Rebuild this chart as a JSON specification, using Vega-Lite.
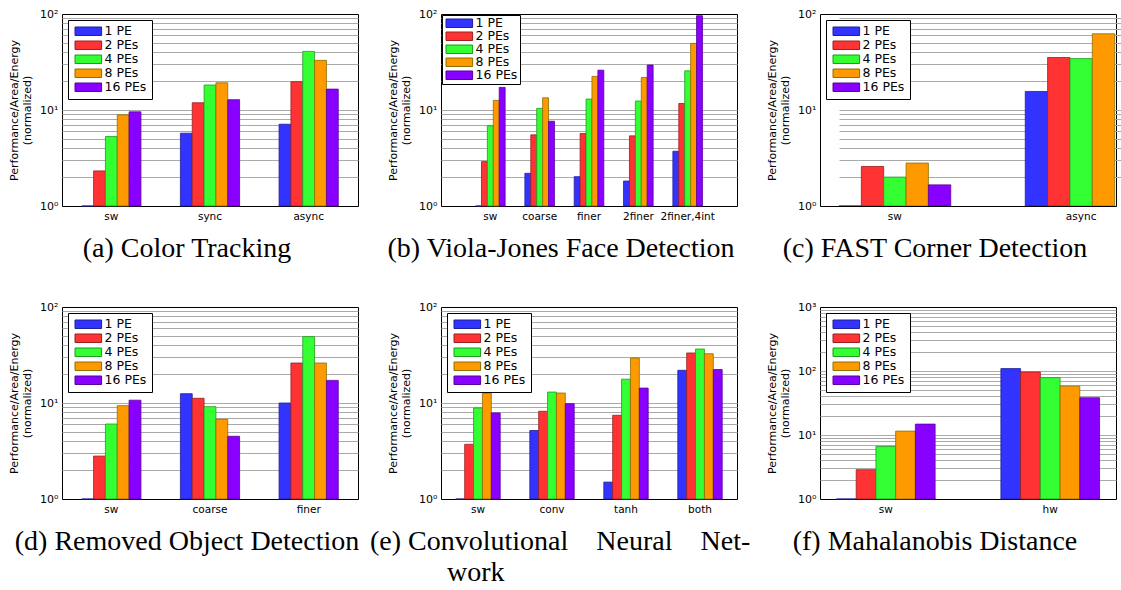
{
  "$schema": "https://vega.github.io/schema/vega-lite/v6.json",
  "background": "white",
  "autosize": {"type": "pad"},
  "padding": {"left": 8, "top": 7, "right": 5, "bottom": 5},
  "bounds": "flush",
  "columns": 3,
  "spacing": {"row": 101, "column": 83},
  "resolve": {"scale": {"x": "independent", "y": "independent", "xOffset": "independent", "color": "independent", "stroke": "independent"}},
  "config": {
    "view": {"stroke": "black", "strokeWidth": 1},
    "axis": {"domain": false, "ticks": false, "labelColor": "black", "labelFont": "DejaVu Sans"},
    "axisX": {"grid": false, "labelAngle": 0, "labelFontSize": 10.5, "labelPadding": 5},
    "axisY": {"grid": true, "gridColor": "#aaaaaa", "gridWidth": 1, "labelFontSize": 11, "labelPadding": 4, "titleFont": "DejaVu Sans", "titleFontSize": 11, "titleFontWeight": "normal", "titleColor": "black", "titleLineHeight": 13, "titlePadding": 7},
    "legend": {"orient": "top-left", "offset": 6, "fillColor": "white", "strokeColor": "black", "strokeWidth": 1, "padding": 5, "rowPadding": 1, "labelFont": "DejaVu Sans", "labelFontSize": 12.5, "labelColor": "black", "labelOffset": 19, "symbolSize": 72, "symbolStrokeWidth": 1, "cornerRadius": 0},
    "title": {"orient": "bottom", "font": "Liberation Serif", "fontSize": 28, "fontWeight": "normal", "color": "black", "anchor": "middle", "frame": "group", "offset": 13}
  },
  "concat": [
    {
      "width": 296, "height": 192,
      "title": {"text": "(a) Color Tracking", "dx": -23},
      "data": {"values": [
        {"cat": "sw", "series": "1 PE", "v": 1}, {"cat": "sw", "series": "2 PEs", "v": 2.32}, {"cat": "sw", "series": "4 PEs", "v": 5.29}, {"cat": "sw", "series": "8 PEs", "v": 8.9}, {"cat": "sw", "series": "16 PEs", "v": 9.57},
        {"cat": "sync", "series": "1 PE", "v": 5.73}, {"cat": "sync", "series": "2 PEs", "v": 11.9}, {"cat": "sync", "series": "4 PEs", "v": 18.2}, {"cat": "sync", "series": "8 PEs", "v": 19.2}, {"cat": "sync", "series": "16 PEs", "v": 12.8},
        {"cat": "async", "series": "1 PE", "v": 7.11}, {"cat": "async", "series": "2 PEs", "v": 19.7}, {"cat": "async", "series": "4 PEs", "v": 40.8}, {"cat": "async", "series": "8 PEs", "v": 32.9}, {"cat": "async", "series": "16 PEs", "v": 16.5}
      ]},
      "mark": {"type": "bar", "strokeWidth": 0.8},
      "encoding": {
        "x": {"field": "cat", "type": "nominal", "sort": ["sw", "sync", "async"], "scale": {"paddingInner": 0.4, "paddingOuter": 0.2}, "axis": {"title": null}},
        "xOffset": {"field": "series", "type": "nominal", "scale": {"domain": ["1 PE", "2 PEs", "4 PEs", "8 PEs", "16 PEs"]}},
        "y": {"field": "v", "type": "quantitative", "stack": null, "scale": {"type": "log", "domain": [1, 100]}, "axis": {"values": [1,2,3,4,5,6,7,8,9,10,20,30,40,50,60,70,80,90,100], "labelExpr": "datum.value==1?'10⁰':datum.value==10?'10¹':datum.value==100?'10²':''", "gridOpacity": {"condition": {"test": "datum.value==1||datum.value==100", "value": 0}, "value": 1}, "title": ["Performance/Area/Energy", "(normalized)"]}},
        "y2": {"datum": 1},
        "color": {"field": "series", "type": "nominal", "scale": {"domain": ["1 PE", "2 PEs", "4 PEs", "8 PEs", "16 PEs"], "range": ["#3333ff", "#ff3333", "#33ff33", "#ff9900", "#8800ff"]}, "legend": {"title": null, "symbolType": "M-1,-1H5.27V1H-1Z"}},
        "stroke": {"field": "series", "type": "nominal", "scale": {"domain": ["1 PE", "2 PEs", "4 PEs", "8 PEs", "16 PEs"], "range": ["#1f1f99", "#992020", "#1f991f", "#8a7000", "#5a0099"]}, "legend": {"title": null, "symbolType": "M-1,-1H5.27V1H-1Z"}}
      }
    },
    {
      "width": 296, "height": 192,
      "title": {"text": "(b) Viola-Jones Face Detection", "dx": -28},
      "data": {"values": [
        {"cat": "sw", "series": "1 PE", "v": 1}, {"cat": "sw", "series": "2 PEs", "v": 2.9}, {"cat": "sw", "series": "4 PEs", "v": 6.84}, {"cat": "sw", "series": "8 PEs", "v": 12.6}, {"cat": "sw", "series": "16 PEs", "v": 17.2},
        {"cat": "coarse", "series": "1 PE", "v": 2.19}, {"cat": "coarse", "series": "2 PEs", "v": 5.51}, {"cat": "coarse", "series": "4 PEs", "v": 10.4}, {"cat": "coarse", "series": "8 PEs", "v": 13.4}, {"cat": "coarse", "series": "16 PEs", "v": 7.64},
        {"cat": "finer", "series": "1 PE", "v": 2.02}, {"cat": "finer", "series": "2 PEs", "v": 5.69}, {"cat": "finer", "series": "4 PEs", "v": 13.0}, {"cat": "finer", "series": "8 PEs", "v": 22.4}, {"cat": "finer", "series": "16 PEs", "v": 26.0},
        {"cat": "2finer", "series": "1 PE", "v": 1.82}, {"cat": "2finer", "series": "2 PEs", "v": 5.38}, {"cat": "2finer", "series": "4 PEs", "v": 12.4}, {"cat": "2finer", "series": "8 PEs", "v": 21.8}, {"cat": "2finer", "series": "16 PEs", "v": 29.4},
        {"cat": "2finer,4int", "series": "1 PE", "v": 3.72}, {"cat": "2finer,4int", "series": "2 PEs", "v": 11.7}, {"cat": "2finer,4int", "series": "4 PEs", "v": 25.6}, {"cat": "2finer,4int", "series": "8 PEs", "v": 49.4}, {"cat": "2finer,4int", "series": "16 PEs", "v": 96}
      ]},
      "mark": {"type": "bar", "strokeWidth": 0.8},
      "encoding": {
        "x": {"field": "cat", "type": "nominal", "sort": ["sw", "coarse", "finer", "2finer", "2finer,4int"], "scale": {"paddingInner": 0.4, "paddingOuter": 0.7}, "axis": {"title": null}},
        "xOffset": {"field": "series", "type": "nominal", "scale": {"domain": ["1 PE", "2 PEs", "4 PEs", "8 PEs", "16 PEs"]}},
        "y": {"field": "v", "type": "quantitative", "stack": null, "scale": {"type": "log", "domain": [1, 100]}, "axis": {"values": [1,2,3,4,5,6,7,8,9,10,20,30,40,50,60,70,80,90,100], "labelExpr": "datum.value==1?'10⁰':datum.value==10?'10¹':datum.value==100?'10²':''", "gridOpacity": {"condition": {"test": "datum.value==1||datum.value==100", "value": 0}, "value": 1}, "title": ["Performance/Area/Energy", "(normalized)"]}},
        "y2": {"datum": 1},
        "color": {"field": "series", "type": "nominal", "scale": {"domain": ["1 PE", "2 PEs", "4 PEs", "8 PEs", "16 PEs"], "range": ["#3333ff", "#ff3333", "#33ff33", "#ff9900", "#8800ff"]}, "legend": {"title": null, "symbolType": "M-1,-1H5.27V1H-1Z", "offset": 1, "padding": 2, "rowPadding": 0}},
        "stroke": {"field": "series", "type": "nominal", "scale": {"domain": ["1 PE", "2 PEs", "4 PEs", "8 PEs", "16 PEs"], "range": ["#1f1f99", "#992020", "#1f991f", "#8a7000", "#5a0099"]}, "legend": {"title": null, "symbolType": "M-1,-1H5.27V1H-1Z", "offset": 1, "padding": 2, "rowPadding": 0}}
      }
    },
    {
      "width": 296, "height": 192,
      "title": {"text": "(c) FAST Corner Detection", "dx": -33},
      "data": {"values": [
        {"cat": "sw", "series": "1 PE", "v": 1}, {"cat": "sw", "series": "2 PEs", "v": 2.58}, {"cat": "sw", "series": "4 PEs", "v": 2.0}, {"cat": "sw", "series": "8 PEs", "v": 2.8}, {"cat": "sw", "series": "16 PEs", "v": 1.66},
        {"cat": "async", "series": "1 PE", "v": 15.6}, {"cat": "async", "series": "2 PEs", "v": 35.2}, {"cat": "async", "series": "4 PEs", "v": 34.3}, {"cat": "async", "series": "8 PEs", "v": 62.2}
      ]},
      "mark": {"type": "bar", "strokeWidth": 0.8, "clip": true},
      "encoding": {
        "x": {"field": "cat", "type": "nominal", "sort": ["sw", "async"], "scale": {"range": [19, 317], "paddingInner": 0.4, "paddingOuter": 0}, "axis": {"title": null}},
        "xOffset": {"field": "series", "type": "nominal", "scale": {"domain": ["1 PE", "2 PEs", "4 PEs", "8 PEs", "16 PEs"]}},
        "y": {"field": "v", "type": "quantitative", "stack": null, "scale": {"type": "log", "domain": [1, 100]}, "axis": {"values": [1,2,3,4,5,6,7,8,9,10,20,30,40,50,60,70,80,90,100], "labelExpr": "datum.value==1?'10⁰':datum.value==10?'10¹':datum.value==100?'10²':''", "gridOpacity": {"condition": {"test": "datum.value==1||datum.value==100", "value": 0}, "value": 1}, "title": ["Performance/Area/Energy", "(normalized)"]}},
        "y2": {"datum": 1},
        "color": {"field": "series", "type": "nominal", "scale": {"domain": ["1 PE", "2 PEs", "4 PEs", "8 PEs", "16 PEs"], "range": ["#3333ff", "#ff3333", "#33ff33", "#ff9900", "#8800ff"]}, "legend": {"title": null, "symbolType": "M-1,-1H5.27V1H-1Z"}},
        "stroke": {"field": "series", "type": "nominal", "scale": {"domain": ["1 PE", "2 PEs", "4 PEs", "8 PEs", "16 PEs"], "range": ["#1f1f99", "#992020", "#1f991f", "#8a7000", "#5a0099"]}, "legend": {"title": null, "symbolType": "M-1,-1H5.27V1H-1Z"}}
      }
    },
    {
      "width": 296, "height": 192,
      "title": {"text": "(d) Removed Object Detection", "dx": -23},
      "data": {"values": [
        {"cat": "sw", "series": "1 PE", "v": 1}, {"cat": "sw", "series": "2 PEs", "v": 2.8}, {"cat": "sw", "series": "4 PEs", "v": 6.04}, {"cat": "sw", "series": "8 PEs", "v": 9.38}, {"cat": "sw", "series": "16 PEs", "v": 10.7},
        {"cat": "coarse", "series": "1 PE", "v": 12.5}, {"cat": "coarse", "series": "2 PEs", "v": 11.2}, {"cat": "coarse", "series": "4 PEs", "v": 9.16}, {"cat": "coarse", "series": "8 PEs", "v": 6.76}, {"cat": "coarse", "series": "16 PEs", "v": 4.5},
        {"cat": "finer", "series": "1 PE", "v": 10.0}, {"cat": "finer", "series": "2 PEs", "v": 26.1}, {"cat": "finer", "series": "4 PEs", "v": 49.1}, {"cat": "finer", "series": "8 PEs", "v": 26.1}, {"cat": "finer", "series": "16 PEs", "v": 17.2}
      ]},
      "mark": {"type": "bar", "strokeWidth": 0.8},
      "encoding": {
        "x": {"field": "cat", "type": "nominal", "sort": ["sw", "coarse", "finer"], "scale": {"paddingInner": 0.4, "paddingOuter": 0.2}, "axis": {"title": null}},
        "xOffset": {"field": "series", "type": "nominal", "scale": {"domain": ["1 PE", "2 PEs", "4 PEs", "8 PEs", "16 PEs"]}},
        "y": {"field": "v", "type": "quantitative", "stack": null, "scale": {"type": "log", "domain": [1, 100]}, "axis": {"values": [1,2,3,4,5,6,7,8,9,10,20,30,40,50,60,70,80,90,100], "labelExpr": "datum.value==1?'10⁰':datum.value==10?'10¹':datum.value==100?'10²':''", "gridOpacity": {"condition": {"test": "datum.value==1||datum.value==100", "value": 0}, "value": 1}, "title": ["Performance/Area/Energy", "(normalized)"]}},
        "y2": {"datum": 1},
        "color": {"field": "series", "type": "nominal", "scale": {"domain": ["1 PE", "2 PEs", "4 PEs", "8 PEs", "16 PEs"], "range": ["#3333ff", "#ff3333", "#33ff33", "#ff9900", "#8800ff"]}, "legend": {"title": null, "symbolType": "M-1,-1H5.27V1H-1Z"}},
        "stroke": {"field": "series", "type": "nominal", "scale": {"domain": ["1 PE", "2 PEs", "4 PEs", "8 PEs", "16 PEs"], "range": ["#1f1f99", "#992020", "#1f991f", "#8a7000", "#5a0099"]}, "legend": {"title": null, "symbolType": "M-1,-1H5.27V1H-1Z"}}
      }
    },
    {
      "width": 296, "height": 192,
      "title": {"text": ["(e) Convolutional\u00a0\u00a0\u00a0\u00a0Neural\u00a0\u00a0\u00a0\u00a0Net-", "\u200b\u00a0\u00a0\u00a0\u00a0\u00a0\u00a0\u00a0\u00a0\u00a0\u00a0\u00a0work"], "anchor": "start", "align": "left", "dx": -71, "lineHeight": 31},
      "data": {"values": [
        {"cat": "sw", "series": "1 PE", "v": 1}, {"cat": "sw", "series": "2 PEs", "v": 3.71}, {"cat": "sw", "series": "4 PEs", "v": 8.88}, {"cat": "sw", "series": "8 PEs", "v": 12.7}, {"cat": "sw", "series": "16 PEs", "v": 7.88},
        {"cat": "conv", "series": "1 PE", "v": 5.17}, {"cat": "conv", "series": "2 PEs", "v": 8.2}, {"cat": "conv", "series": "4 PEs", "v": 13.0}, {"cat": "conv", "series": "8 PEs", "v": 12.7}, {"cat": "conv", "series": "16 PEs", "v": 9.84},
        {"cat": "tanh", "series": "1 PE", "v": 1.5}, {"cat": "tanh", "series": "2 PEs", "v": 7.45}, {"cat": "tanh", "series": "4 PEs", "v": 17.7}, {"cat": "tanh", "series": "8 PEs", "v": 29.4}, {"cat": "tanh", "series": "16 PEs", "v": 14.3},
        {"cat": "both", "series": "1 PE", "v": 21.9}, {"cat": "both", "series": "2 PEs", "v": 33.2}, {"cat": "both", "series": "4 PEs", "v": 36.5}, {"cat": "both", "series": "8 PEs", "v": 32.6}, {"cat": "both", "series": "16 PEs", "v": 22.3}
      ]},
      "mark": {"type": "bar", "strokeWidth": 0.8},
      "encoding": {
        "x": {"field": "cat", "type": "nominal", "sort": ["sw", "conv", "tanh", "both"], "scale": {"paddingInner": 0.4, "paddingOuter": 0.2}, "axis": {"title": null}},
        "xOffset": {"field": "series", "type": "nominal", "scale": {"domain": ["1 PE", "2 PEs", "4 PEs", "8 PEs", "16 PEs"]}},
        "y": {"field": "v", "type": "quantitative", "stack": null, "scale": {"type": "log", "domain": [1, 100]}, "axis": {"values": [1,2,3,4,5,6,7,8,9,10,20,30,40,50,60,70,80,90,100], "labelExpr": "datum.value==1?'10⁰':datum.value==10?'10¹':datum.value==100?'10²':''", "gridOpacity": {"condition": {"test": "datum.value==1||datum.value==100", "value": 0}, "value": 1}, "title": ["Performance/Area/Energy", "(normalized)"]}},
        "y2": {"datum": 1},
        "color": {"field": "series", "type": "nominal", "scale": {"domain": ["1 PE", "2 PEs", "4 PEs", "8 PEs", "16 PEs"], "range": ["#3333ff", "#ff3333", "#33ff33", "#ff9900", "#8800ff"]}, "legend": {"title": null, "symbolType": "M-1,-1H5.27V1H-1Z"}},
        "stroke": {"field": "series", "type": "nominal", "scale": {"domain": ["1 PE", "2 PEs", "4 PEs", "8 PEs", "16 PEs"], "range": ["#1f1f99", "#992020", "#1f991f", "#8a7000", "#5a0099"]}, "legend": {"title": null, "symbolType": "M-1,-1H5.27V1H-1Z"}}
      }
    },
    {
      "width": 296, "height": 192,
      "title": {"text": "(f) Mahalanobis Distance", "dx": -33},
      "data": {"values": [
        {"cat": "sw", "series": "1 PE", "v": 1}, {"cat": "sw", "series": "2 PEs", "v": 2.87}, {"cat": "sw", "series": "4 PEs", "v": 6.6}, {"cat": "sw", "series": "8 PEs", "v": 11.5}, {"cat": "sw", "series": "16 PEs", "v": 14.8},
        {"cat": "hw", "series": "1 PE", "v": 109}, {"cat": "hw", "series": "2 PEs", "v": 96.5}, {"cat": "hw", "series": "4 PEs", "v": 78.8}, {"cat": "hw", "series": "8 PEs", "v": 57.9}, {"cat": "hw", "series": "16 PEs", "v": 38.2}
      ]},
      "mark": {"type": "bar", "strokeWidth": 0.8},
      "encoding": {
        "x": {"field": "cat", "type": "nominal", "sort": ["sw", "hw"], "scale": {"paddingInner": 0.4, "paddingOuter": 0.1}, "axis": {"title": null}},
        "xOffset": {"field": "series", "type": "nominal", "scale": {"domain": ["1 PE", "2 PEs", "4 PEs", "8 PEs", "16 PEs"]}},
        "y": {"field": "v", "type": "quantitative", "stack": null, "scale": {"type": "log", "domain": [1, 1000]}, "axis": {"values": [1,2,3,4,5,6,7,8,9,10,20,30,40,50,60,70,80,90,100,200,300,400,500,600,700,800,900,1000], "labelExpr": "datum.value==1?'10⁰':datum.value==10?'10¹':datum.value==100?'10²':datum.value==1000?'10³':''", "gridOpacity": {"condition": {"test": "datum.value==1||datum.value==1000", "value": 0}, "value": 1}, "title": ["Performance/Area/Energy", "(normalized)"]}},
        "y2": {"datum": 1},
        "color": {"field": "series", "type": "nominal", "scale": {"domain": ["1 PE", "2 PEs", "4 PEs", "8 PEs", "16 PEs"], "range": ["#3333ff", "#ff3333", "#33ff33", "#ff9900", "#8800ff"]}, "legend": {"title": null, "symbolType": "M-1,-1H5.27V1H-1Z"}},
        "stroke": {"field": "series", "type": "nominal", "scale": {"domain": ["1 PE", "2 PEs", "4 PEs", "8 PEs", "16 PEs"], "range": ["#1f1f99", "#992020", "#1f991f", "#8a7000", "#5a0099"]}, "legend": {"title": null, "symbolType": "M-1,-1H5.27V1H-1Z"}}
      }
    }
  ]
}
